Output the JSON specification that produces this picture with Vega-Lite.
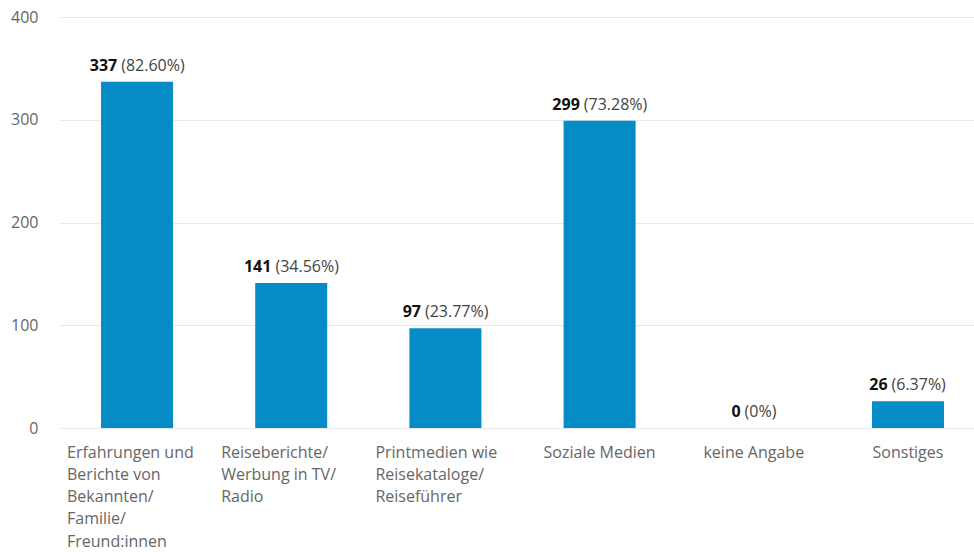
{
  "$schema": "https://vega.github.io/schema/vega-lite/v6.json",
  "width": 914,
  "height": 411,
  "autosize": {"type": "none"},
  "padding": {"left": 60, "top": 17, "right": 0, "bottom": 124},
  "background": "white",
  "config": {"font": "Open Sans", "view": {"stroke": null}},
  "data": {
    "values": [
      {"cat": "Erfahrungen und\nBerichte von\nBekannten/\nFamilie/\nFreund:innen", "count": 337, "pct": 82.60},
      {"cat": "Reiseberichte/\nWerbung in TV/\nRadio", "count": 141, "pct": 34.56},
      {"cat": "Printmedien wie\nReisekataloge/\nReiseführer", "count": 97, "pct": 23.77},
      {"cat": "Soziale Medien", "count": 299, "pct": 73.28},
      {"cat": "keine Angabe", "count": 0, "pct": 0},
      {"cat": "Sonstiges", "count": 26, "pct": 6.37}
    ]
  },
  "transform": [
    {"calculate": "datum.pct == 0 ? '(0%)' : '(' + format(datum.pct, '.2f') + '%)'", "as": "pctLabel"},
    {"calculate": "toString(datum.count)", "as": "numLabel"}
  ],
  "encoding": {
    "x": {
      "field": "cat",
      "type": "nominal",
      "sort": null,
      "scale": {"range": [0, 925], "paddingInner": 0.533, "paddingOuter": 0.266},
      "axis": {
        "title": null,
        "domain": false,
        "ticks": false,
        "labelAngle": 0,
        "labelAlign": {"expr": "indexof(datum.value, '\\n') >= 0 ? 'left' : 'center'"},
        "labelOffset": {"expr": "indexof(datum.value, '\\n') >= 0 ? -70 : 0"},
        "labelBaseline": "top",
        "labelPadding": 16,
        "labelFontSize": 16,
        "labelLineHeight": 22.3,
        "labelColor": "#666666",
        "labelLimit": 0,
        "labelBound": false,
        "labelFlush": false,
        "labelOverlap": false,
        "labelExpr": "split(datum.value, '\\n')"
      }
    },
    "y": {
      "field": "count",
      "type": "quantitative",
      "scale": {"domain": [0, 400], "nice": false},
      "axis": {
        "title": null,
        "domain": false,
        "ticks": false,
        "values": [0, 100, 200, 300, 400],
        "labelPadding": 22,
        "labelFontSize": 16,
        "labelColor": "#666666",
        "gridColor": "#e8e8e8",
        "gridWidth": 1
      }
    }
  },
  "layer": [
    {"mark": {"type": "bar", "color": "#078bc7"}},
    {
      "mark": {
        "type": "text",
        "fontWeight": "bold",
        "fontSize": 16,
        "color": "#111111",
        "align": "right",
        "baseline": "alphabetic",
        "dy": -11,
        "dx": {"expr": "(length(datum.numLabel) * 9.2 - 4 - length(datum.pctLabel) * 7.9) / 2"}
      },
      "encoding": {"text": {"field": "numLabel"}}
    },
    {
      "mark": {
        "type": "text",
        "fontSize": 16,
        "color": "#444444",
        "align": "left",
        "baseline": "alphabetic",
        "dy": -11,
        "dx": {"expr": "(length(datum.numLabel) * 9.2 - 4 - length(datum.pctLabel) * 7.9) / 2 + 4"}
      },
      "encoding": {"text": {"field": "pctLabel"}}
    }
  ]
}
